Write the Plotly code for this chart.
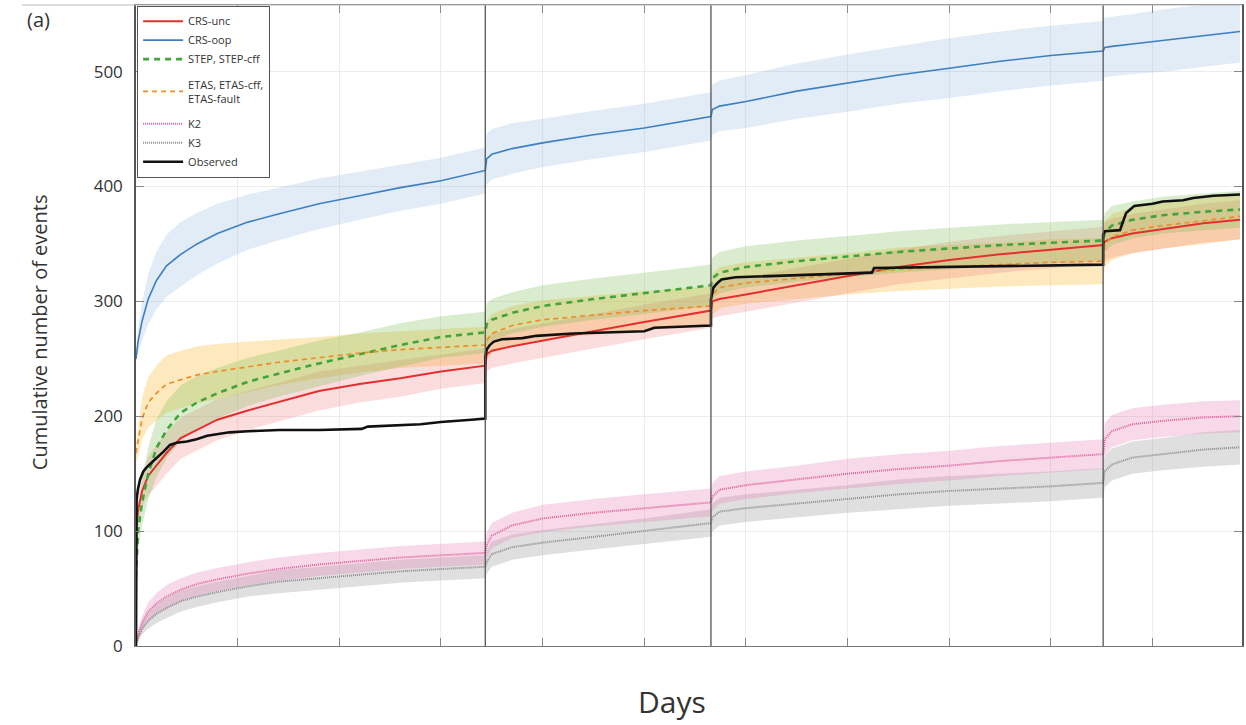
import plotly.graph_objects as go

# Time axis shared by the forecast curves (days since the first mainshock)
days = [0, 1, 3, 6, 10, 15, 22, 30, 40, 55, 70, 90, 110, 130, 150, 171.8,
        172.5, 175, 185, 200, 225, 250, 282.8, 283.5, 287, 300, 325, 350, 375,
        400, 425, 450, 475.7, 476.5, 480, 490, 505, 525, 543]

# Major events (vertical markers)
event_days = [171.8, 282.8, 475.7]

# CRS-unc
crs_unc = [100, 118, 135, 148, 157, 168, 181, 188, 197, 205, 212, 222, 228, 233, 239, 244,
           254, 257, 261, 266, 274, 282, 292, 300, 302, 306, 314, 322, 330, 336, 341, 345,
           349, 352, 355, 359, 363, 368, 371]
crs_unc_lo = [95, 108, 121, 131, 139, 150, 163, 170, 179, 188, 195, 205, 212, 217, 224, 229,
              239, 242, 246, 251, 259, 267, 277, 285, 287, 291, 299, 307, 315, 320, 325, 329,
              333, 335, 338, 342, 346, 351, 354]
crs_unc_hi = [105, 128, 149, 165, 175, 186, 199, 206, 215, 222, 229, 239, 244, 249, 254, 259,
              269, 272, 276, 281, 289, 297, 307, 315, 317, 321, 329, 337, 345, 352, 357, 361,
              365, 369, 372, 376, 380, 385, 388]

# CRS-oop
crs_oop = [250, 265, 283, 302, 318, 331, 341, 350, 359, 369, 376, 385, 392, 399, 405, 414,
           424, 428, 433, 438, 445, 451, 461, 467, 470, 474, 483, 490, 497, 503, 509, 514,
           518, 521, 522, 524, 527, 531, 535]
crs_oop_lo = [247, 255, 266, 280, 293, 304, 313, 323, 333, 345, 353, 363, 371, 379, 385, 394,
              402, 406, 411, 417, 424, 430, 440, 445, 448, 451, 459, 465, 472, 477, 483, 488,
              492, 495, 496, 498, 500, 504, 508]
crs_oop_hi = [253, 275, 300, 324, 343, 358, 369, 377, 385, 393, 399, 407, 413, 419, 425, 434,
              446, 450, 455, 459, 466, 472, 482, 489, 492, 497, 507, 515, 522, 529, 535, 540,
              544, 547, 548, 550, 554, 558, 562]

# STEP, STEP-cff
step = [60, 100, 125, 150, 172, 188, 203, 212, 220, 230, 237, 246, 254, 262, 269, 273,
        280, 284, 290, 296, 302, 307, 314, 320, 325, 330, 335, 339, 343, 346, 349, 351,
        353, 360, 366, 371, 375, 378, 380]
step_lo = [52, 84, 105, 127, 147, 163, 179, 189, 198, 209, 217, 226, 235, 243, 251, 255,
           262, 266, 272, 278, 284, 289, 296, 302, 307, 312, 317, 321, 325, 328, 331, 333,
           335, 343, 349, 355, 359, 362, 364]
step_hi = [68, 116, 145, 173, 197, 213, 227, 235, 242, 251, 257, 266, 273, 281, 287, 291,
           298, 302, 308, 314, 320, 325, 332, 338, 343, 348, 353, 357, 361, 364, 367, 369,
           371, 377, 383, 387, 391, 394, 396]

# ETAS, ETAS-cff, ETAS-fault
etas = [168, 178, 198, 212, 220, 228, 232, 236, 239, 243, 247, 251, 255, 258, 260, 262,
        266, 272, 279, 284, 288, 292, 296, 306, 312, 316, 320, 324, 328, 330, 332, 334,
        335, 350, 356, 362, 366, 370, 374]
etas_lo = [160, 164, 180, 190, 196, 203, 207, 211, 215, 221, 227, 233, 238, 242, 244, 246,
           249, 255, 262, 267, 271, 275, 279, 288, 294, 298, 302, 306, 309, 311, 313, 314,
           315, 330, 336, 342, 346, 350, 354]
etas_hi = [176, 192, 216, 234, 244, 253, 257, 261, 263, 265, 267, 269, 272, 274, 276, 278,
           283, 289, 296, 301, 305, 309, 313, 324, 330, 334, 338, 342, 347, 349, 351, 354,
           355, 370, 376, 382, 386, 390, 394]

# K2
k2 = [2, 10, 20, 30, 37, 43, 49, 54, 58, 63, 67, 71, 74, 77, 79, 81,
      88, 96, 105, 111, 116, 120, 125, 130, 136, 140, 145, 150, 154, 157, 161, 164,
      167, 180, 187, 193, 196, 199, 200]
k2_lo = [1, 6, 14, 22, 28, 33, 39, 44, 48, 53, 57, 61, 64, 67, 69, 71,
         77, 85, 94, 99, 104, 108, 113, 118, 124, 128, 133, 137, 141, 144, 148, 151,
         154, 166, 173, 179, 182, 185, 186]
k2_hi = [3, 14, 26, 38, 46, 53, 59, 64, 68, 73, 77, 81, 84, 87, 89, 91,
         99, 107, 116, 123, 128, 132, 137, 142, 148, 152, 157, 163, 167, 170, 174, 177,
         180, 194, 201, 207, 210, 213, 214]

# K3
k3 = [1, 7, 15, 22, 28, 33, 39, 43, 47, 52, 56, 59, 62, 65, 67, 69,
      73, 80, 86, 90, 95, 100, 107, 112, 117, 120, 124, 128, 132, 135, 137, 139,
      142, 152, 158, 164, 167, 171, 173]
k3_lo = [0, 4, 10, 15, 20, 24, 30, 34, 38, 43, 46, 49, 52, 55, 57, 59,
         63, 69, 75, 79, 84, 89, 95, 100, 105, 108, 112, 116, 119, 122, 124, 126,
         129, 138, 144, 150, 153, 156, 158]
k3_hi = [2, 10, 20, 29, 36, 42, 48, 52, 56, 61, 66, 69, 72, 75, 77, 79,
         83, 91, 97, 101, 106, 111, 119, 124, 129, 132, 136, 140, 145, 148, 150, 152,
         155, 166, 172, 178, 181, 186, 188]

# Observed cumulative count
obs_days = [0, 0.3, 1, 2, 3.6, 5, 8.5, 11, 13.4, 16.7, 20, 25, 29.8, 35, 46, 55, 70.7, 90,
            111, 114, 128, 140, 150, 161, 165, 171.8, 171.8, 172.5, 174, 176, 180, 190, 197,
            215, 229, 250, 255, 270, 282.8, 282.8, 283.3, 284, 286, 288, 295, 310, 330, 345,
            362, 363, 400, 450, 475.7, 475.7, 476.5, 484, 485.5, 487, 491, 500, 505, 515,
            520, 530, 543]
obs_count = [0, 128, 137, 145, 152, 155, 161, 165, 169, 175, 177, 178, 180, 183, 186, 187, 188, 188,
             189, 191, 192, 193, 195, 196, 197, 198, 252, 258, 262, 265, 267, 268, 270,
             272, 273, 274, 277, 278, 279, 302, 306, 312, 316, 319, 321, 322, 323, 324,
             325, 329, 330, 331, 332, 358, 361, 362, 370, 377, 383, 385, 387, 388,
             390, 392, 393]

y_ticks = [0, 100, 200, 300, 400, 500]

FONT = "Open Sans"

fig = go.Figure()


def band(lo, hi, color):
    fig.add_trace(go.Scatter(
        x=days + days[::-1], y=lo + hi[::-1], fill="toself", fillcolor=color,
        line=dict(width=0), mode="lines", hoverinfo="skip", showlegend=False))


band(crs_oop_lo, crs_oop_hi, "rgba(120,170,220,0.22)")
band(k3_lo, k3_hi, "rgba(150,150,150,0.30)")
band(k2_lo, k2_hi, "rgba(230,120,180,0.28)")
band(etas_lo, etas_hi, "rgba(250,200,90,0.40)")
band(crs_unc_lo, crs_unc_hi, "rgba(240,120,120,0.25)")
band(step_lo, step_hi, "rgba(120,190,80,0.28)")

series = [
    ("CRS-unc", crs_unc, dict(color="#e3302f", width=2), 1, "g1"),
    ("CRS-oop", crs_oop, dict(color="#3d7fc0", width=1.6), 2, "g1"),
    ("STEP, STEP-cff", step, dict(color="#3fa43a", width=2.6, dash="6px,5px"), 3, "g1"),
    ("ETAS, ETAS-cff,<br>ETAS-fault", etas,
     dict(color="#f08c28", width=1.7, dash="5px,4px"), 4, "g2"),
    ("K2", k2, dict(color="#e0609e", width=2, dash="1px,1px"), 5, "g3"),
    ("K3", k3, dict(color="#8c8c8c", width=2, dash="1px,1px"), 6, "g3"),
]
for name, vals, line, rank, grp in series:
    fig.add_trace(go.Scatter(x=days, y=vals, mode="lines", name=name, line=line,
                             legendrank=rank, legendgroup=grp))

fig.add_trace(go.Scatter(x=obs_days, y=obs_count, mode="lines", name="Observed",
                         line=dict(color="#111111", width=2.6), legendrank=7,
                         legendgroup="g3"))

shapes = [dict(type="line", xref="x", yref="paper", x0=d, x1=d, y0=0, y1=1,
               line=dict(color="#555555", width=1.3)) for d in event_days]
shapes.append(dict(type="line", xref="paper", yref="paper", x0=-0.103, x1=1, y0=1, y1=1,
                   line=dict(color="#bbbbbb", width=1.2)))

fig.update_layout(
    width=1246, height=725,
    margin=dict(l=136, r=2, t=5, b=79),
    paper_bgcolor="white", plot_bgcolor="white",
    font=dict(family=FONT, color="#333333"),
    showlegend=True,
    legend=dict(x=0.001, y=0.999, xanchor="left", yanchor="top",
                bgcolor="white", bordercolor="#555555", borderwidth=1,
                font=dict(family=FONT, size=11, color="#333333"),
                tracegroupgap=7, itemwidth=40, groupclick="toggleitem"),
    xaxis=dict(range=[0, 544], tickmode="linear", tick0=0, dtick=50,
               showticklabels=False, ticks="inside", ticklen=8, tickcolor="#888888",
               showgrid=True, gridcolor="#ececec", gridwidth=1, zeroline=False,
               showline=True, linecolor="#777777", linewidth=1.3, mirror="ticks"),
    yaxis=dict(range=[0, 558], tickvals=y_ticks, ticktext=[str(v) for v in y_ticks],
               ticks="inside", ticklen=8, tickcolor="#888888",
               tickfont=dict(family=FONT, size=17, color="#333333"), ticklabelstandoff=8,
               showgrid=True, gridcolor="#ececec", gridwidth=1, zeroline=False,
               showline=True, linecolor="#555555", linewidth=1.5, mirror="ticks"),
    shapes=shapes,
    annotations=[
        dict(text="Cumulative number of events", xref="paper", yref="paper",
             x=-0.0866, y=0.49, textangle=-90, showarrow=False,
             font=dict(family=FONT, size=20, color="#333333"),
             xanchor="center", yanchor="middle"),
        dict(text="Days", xref="paper", yref="paper", x=0.4847, y=-0.086,
             showarrow=False, font=dict(family=FONT, size=30, color="#333333"),
             xanchor="center", yanchor="middle"),
        dict(text="(a)", xref="paper", yref="paper", x=-0.0884, y=0.9766,
             showarrow=False, font=dict(family=FONT, size=20, color="#333333"),
             xanchor="center", yanchor="middle"),
    ],
)

fig.write_html("out.html")
